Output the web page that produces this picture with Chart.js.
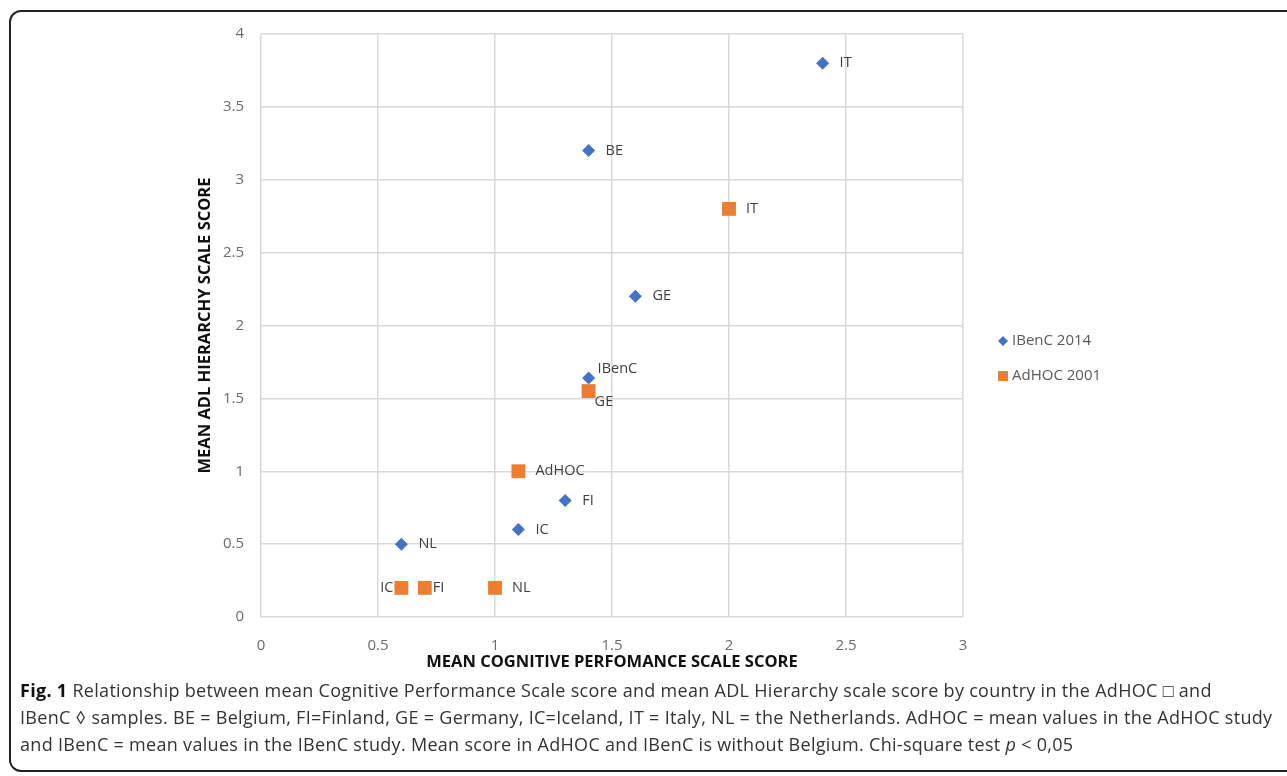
<!DOCTYPE html>
<html>
<head>
<meta charset="utf-8">
<script src="https://cdn.jsdelivr.net/npm/chart.js@4"></script>
<style>
  body { margin: 0; background: #fff; width: 1287px; height: 776px; overflow: hidden; position: relative; }
  #frame { position: absolute; left: 9px; top: 10px; width: 1320px; height: 762px; border: 2px solid #222; border-radius: 12px; box-sizing: border-box; }
  #chart { position: absolute; left: 0; top: 0; }
  .cap { position: absolute; left: 20px; font-family: "Open Sans", "Noto Sans", sans-serif; font-size: 18px; letter-spacing: 0.3px; color: #333; white-space: nowrap; }
  .cap b { font-weight: 700; color: #111; }
</style>
</head>
<body>
<div id="frame"></div>
<canvas id="chart" width="1287" height="680"></canvas>
<div class="cap" style="top:678px"><b>Fig. 1</b> Relationship between mean Cognitive Performance Scale score and mean ADL Hierarchy scale score by country in the AdHOC □ and</div>
<div class="cap" style="top:705px">IBenC ◊ samples. BE = Belgium, FI=Finland, GE = Germany, IC=Iceland, IT = Italy, NL = the Netherlands. AdHOC = mean values in the AdHOC study</div>
<div class="cap" style="top:732px">and IBenC = mean values in the IBenC study. Mean score in AdHOC and IBenC is without Belgium. Chi-square test <i>p</i> &lt; 0,05</div>
<script>
// Datos
const ibencX = [2.4, 1.4, 1.6, 1.4, 1.3, 1.1, 0.6];
const ibencY = [3.8, 3.2, 2.2, 1.64, 0.8, 0.6, 0.5];
const ibencLabels = ['IT', 'BE', 'GE', 'IBenC', 'FI', 'IC', 'NL'];

const adhocX = [2.0, 1.4, 1.1, 0.6, 0.7, 1.0];
const adhocY = [2.8, 1.55, 1.0, 0.2, 0.2, 0.2];
const adhocLabels = ['IT', 'GE', 'AdHOC', 'IC', 'FI', 'NL'];

const xTicks = [0, 0.5, 1, 1.5, 2, 2.5, 3];
const yTicks = [0, 0.5, 1, 1.5, 2, 2.5, 3, 3.5, 4];

const seriesNames = ['IBenC 2014', 'AdHOC 2001'];

function toPoints(xs, ys) {
    return xs.map((x, i) => ({ x: x, y: ys[i] }));
}

// colocación de etiquetas (solo estilo)
const labelPlacement = {
    'IBenC 2014:IBenC': { dx: 9, dy: -9, align: 'left' },
    'AdHOC 2001:GE': { dx: 6, dy: 11, align: 'left' },
    'AdHOC 2001:IC': { dx: -8, dy: 0, align: 'right' },
    'AdHOC 2001:FI': { dx: 8, dy: 0, align: 'left' }
};

const pointLabels = {
    id: 'pointLabels',
    afterDatasetsDraw(chart) {
        const ctx = chart.ctx;
        ctx.save();
        ctx.font = '14.5px "Open Sans", sans-serif';
        ctx.fillStyle = '#404040';
        ctx.textBaseline = 'middle';
        chart.data.datasets.forEach((ds, d) => {
            const meta = chart.getDatasetMeta(d);
            meta.data.forEach((pt, i) => {
                const txt = ds.pointLabels[i];
                const p = labelPlacement[ds.label + ':' + txt] || { dx: 17, dy: 0, align: 'left' };
                ctx.textAlign = p.align;
                ctx.fillText(txt, pt.x + p.dx, pt.y + p.dy);
            });
        });
        ctx.restore();
    }
};

// leyenda dibujada a mano a la derecha
const sideLegend = {
    id: 'sideLegend',
    afterDraw(chart) {
        const ctx = chart.ctx;
        ctx.save();
        ctx.font = '15px "Open Sans", sans-serif';
        ctx.textBaseline = 'middle';
        chart.data.datasets.forEach((ds, d) => {
            const x = 1003, y = 341 + d * 35;
            ctx.fillStyle = ds.backgroundColor;
            ctx.beginPath();
            if (ds.pointStyle === 'rectRot') {
                ctx.moveTo(x - 5, y); ctx.lineTo(x, y - 5); ctx.lineTo(x + 5, y); ctx.lineTo(x, y + 5);
            } else {
                ctx.rect(x - 5, y - 5, 10, 10);
            }
            ctx.closePath();
            ctx.fill();
            ctx.fillStyle = '#595959';
            ctx.textAlign = 'left';
            ctx.fillText(ds.label, x + 9, y);
        });
        ctx.restore();
    }
};

const tickFont = { family: '"Open Sans", sans-serif', size: 15 };
const titleFont = { family: '"Open Sans", sans-serif', size: 16.5, weight: 'bold', lineHeight: 1.2 };

new Chart(document.getElementById('chart').getContext('2d'), {
    type: 'scatter',
    data: {
        datasets: [{
            label: seriesNames[0],
            data: toPoints(ibencX, ibencY),
            pointLabels: ibencLabels,
            pointStyle: 'rectRot',
            pointRadius: 6.5,
            backgroundColor: '#4472C4',
            borderWidth: 0
        }, {
            label: seriesNames[1],
            data: toPoints(adhocX, adhocY),
            pointLabels: adhocLabels,
            pointStyle: 'rect',
            pointRadius: 9.8,
            backgroundColor: '#ED7D31',
            borderWidth: 0
        }]
    },
    options: {
        responsive: false,
        animation: false,
        devicePixelRatio: 1,
        layout: { padding: { left: 180, right: 324, top: 34, bottom: 3 } },
        plugins: {
            legend: { display: false },
            tooltip: { enabled: false }
        },
        scales: {
            x: {
                type: 'linear', min: 0, max: 3,
                afterBuildTicks: s => { s.ticks = xTicks.map(v => ({ value: v })); },
                afterFit: s => { s.height = 60; },
                grid: { color: '#d9d9d9', lineWidth: 1.5, drawTicks: false },
                border: { display: false },
                ticks: { font: tickFont, color: '#6b6b6b', padding: 20, maxRotation: 0, callback: v => String(v) },
                title: { display: true, text: 'MEAN COGNITIVE PERFOMANCE SCALE SCORE', font: titleFont, color: '#111', padding: { top: 0, bottom: 5 } }
            },
            y: {
                type: 'linear', min: 0, max: 4,
                afterBuildTicks: s => { s.ticks = yTicks.map(v => ({ value: v })); },
                afterFit: s => { s.width = 81; },
                grid: { color: '#d9d9d9', lineWidth: 1.5, drawTicks: false },
                border: { display: false },
                ticks: { font: tickFont, color: '#6b6b6b', padding: 17, callback: v => String(v) },
                title: { display: true, text: 'MEAN ADL HIERARCHY SCALE SCORE', font: titleFont, color: '#111', padding: { top: 15, bottom: 0 } }
            }
        }
    },
    plugins: [pointLabels, sideLegend]
});
</script>
</body>
</html>
